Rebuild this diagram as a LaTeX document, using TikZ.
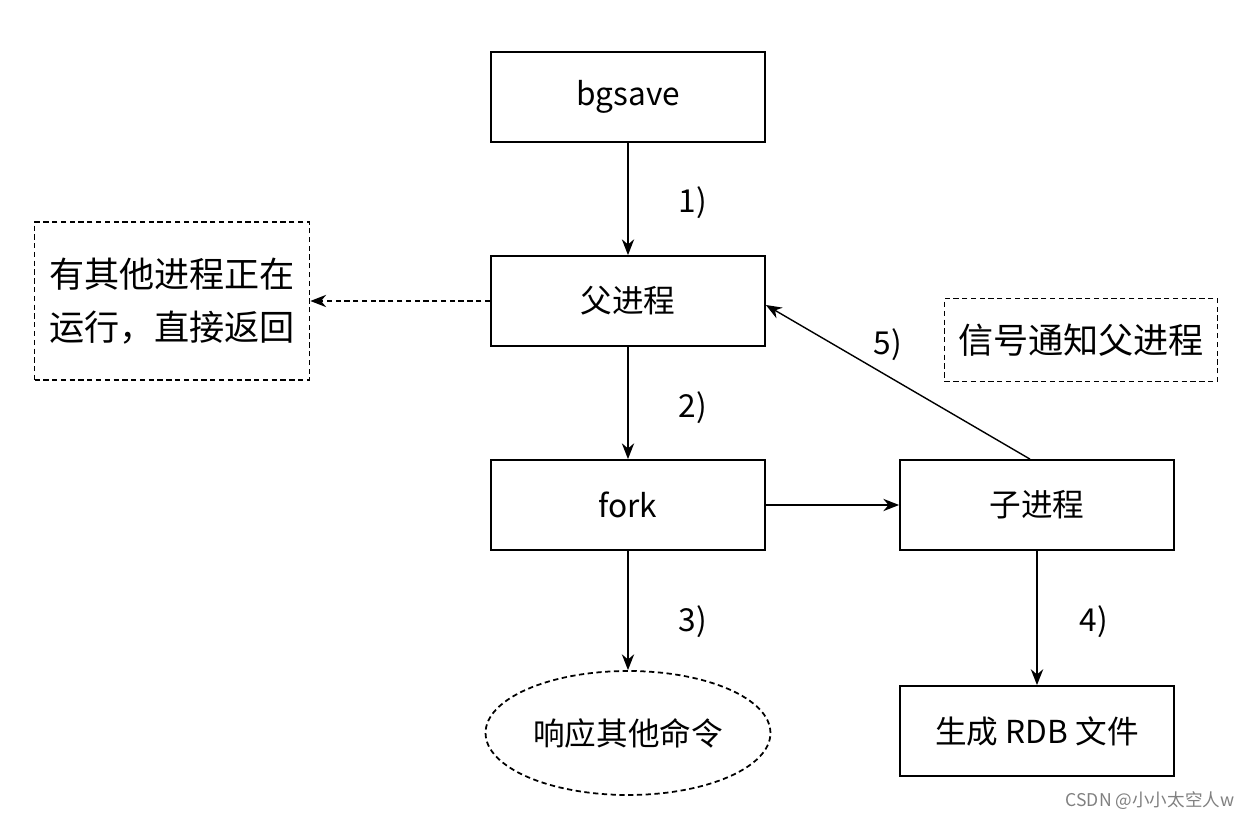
\documentclass[tikz,border=0pt]{standalone}
\usepackage{fontspec}
\setmainfont{Noto Sans CJK SC}
\usetikzlibrary{arrows.meta,shapes.geometric}
\begin{document}
\begin{tikzpicture}[x=0.02cm,y=-0.02cm,
  box/.style={draw,line width=1pt,minimum width=274*0.02cm,minimum height=90*0.02cm,inner sep=0pt,font=\fontsize{18}{21}\selectfont},
  dbox/.style={draw,densely dashed,line width=1pt,inner sep=0pt,font=\fontsize{20}{30}\selectfont,align=left},
  lab/.style={font=\fontsize{18}{21}\selectfont},
  arr/.style={-{Stealth[length=9pt,width=7pt]},line width=0.8pt}]
\useasboundingbox (0,0) rectangle (1259,820);
\node[box] (bg) at (628,97) {bgsave};
\node[box] (fa) at (628,301) {父进程};
\node[box] (fk) at (628,505) {fork};
\node[box] (ch) at (1037,505) {子进程};
\node[box] (rdb) at (1037,731) {生成 RDB 文件};
\node[dbox,minimum width=275*0.02cm,minimum height=158*0.02cm] (busy) at (172,301) {有其他进程正在\\运行，直接返回};
\node[dbox,minimum width=273*0.02cm,minimum height=83*0.02cm] (sig) at (1081,340) {信号通知父进程};
\node[draw,densely dashed,line width=1pt,ellipse,minimum width=274*0.02cm,minimum height=124*0.02cm,font=\fontsize{18}{21}\selectfont] (resp) at (628,733) {响应其他命令};
\draw[arr] (bg) -- (fa);
\draw[arr] (fa) -- (fk);
\draw[arr] (fk) -- (resp);
\draw[arr] (fk) -- (ch);
\draw[arr,line width=1.3pt] (ch) -- (rdb);
\draw[arr,densely dashed] (fa.west) -- (busy.east);
\draw[arr] (ch.north) ++(-7,0) coordinate (cs) (cs) -- (fa.east |- 0,305);
\node[lab] (l1) at (693,203) {1)};
\node[lab] (l2) at (693,408) {2)};
\node[lab] (l3) at (693,622) {3)};
\node[lab] (l4) at (1094,622) {4)};
\node[lab] (l5) at (888,345) {5)};
\node[font=\fontsize{10}{12}\selectfont,text=gray] (wm) at (1150,801) {CSDN @小小太空人w};
\end{tikzpicture}
\end{document}
